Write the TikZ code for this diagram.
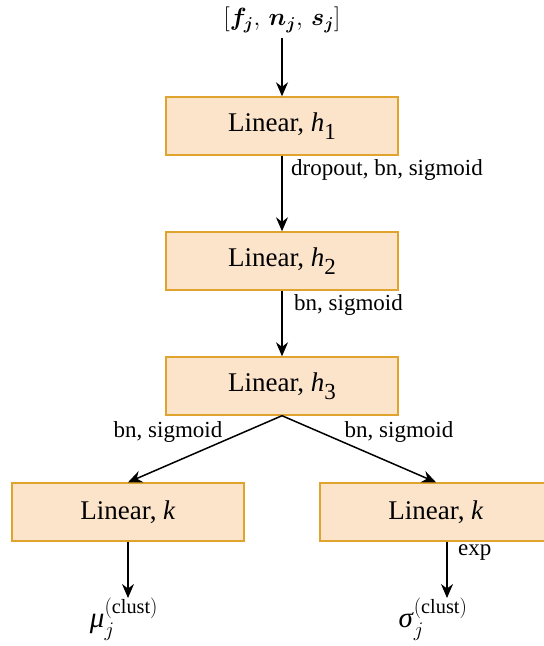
\documentclass[tikz,border=0pt]{standalone}
\usepackage{fontspec}
\usepackage{amsmath,bm}
\setmainfont{Liberation Serif}
\usetikzlibrary{arrows.meta}
\definecolor{boxfill}{HTML}{FCE4CB}
\definecolor{boxline}{HTML}{E0A42E}
\tikzset{
  layer/.style={draw=boxline, fill=boxfill, line width=1.4pt, minimum width=232pt,
    minimum height=58pt, inner sep=0pt, font=\fontsize{27}{29}\selectfont},
  flow/.style={-{Stealth[length=14pt,width=12pt]}, line width=1.5pt},
  lab/.style={font=\fontsize{23}{25}\selectfont, inner sep=0pt},
  mathlab/.style={inner sep=0pt, font=\fontsize{27}{29}\selectfont}
}
\newcommand{\sub}[1]{\raisebox{-0.3em}{\fontsize{23}{23}\selectfont #1}}
\begin{document}
\begin{tikzpicture}[x=1pt,y=-1pt]
\useasboundingbox (0,0) rectangle (544,646);
\clip (0,0) rectangle (544,646);

\node[mathlab] (in) at (282,20) {$[\bm{f_j},\,\bm{n_j},\,\bm{s_j}]$};

\node[layer] (h1) at (282,126) {Linear, \textit{h}\sub{1}};
\node[layer] (h2) at (282,261) {Linear, \textit{h}\sub{2}};
\node[layer] (h3) at (282,386) {Linear, \textit{h}\sub{3}};
\node[layer] (lk) at (128,512) {Linear, \textit{k}};
\node[layer] (rk) at (436,512) {Linear, \textit{k}};

\node[mathlab, anchor=north, font=\fontsize{29}{31}\selectfont] (mu) at (124,598) {\textit{μ}$^{(\mathrm{clust})}_{j}$};
\node[mathlab, anchor=north, font=\fontsize{29}{31}\selectfont] (sig) at (433,598) {\textit{σ}$^{(\mathrm{clust})}_{j}$};
\coordinate (sigtop) at (447,598);

\draw[flow] (in.south) ++(0,5) -- (h1.north);
\draw[flow] (h1) -- (h2);
\draw[flow] (h2) -- (h3);
\draw[flow] (h3.south) -- (lk.north);
\draw[flow] (h3.south) -- (rk.north);
\draw[flow] (lk.south) -- (lk.south |- mu.north);
\draw[flow] (rk.south -| sigtop) -- (sigtop);

\node[lab, anchor=west] (l1) at (291,170) {dropout, bn, sigmoid};
\node[lab, anchor=west] (l2) at (294,305) {bn, sigmoid};
\node[lab] (l3) at (168,432) {bn, sigmoid};
\node[lab] (l4) at (399,432) {bn, sigmoid};
\node[lab, anchor=west] (l5) at (458,553) {exp};
\end{tikzpicture}
\end{document}
